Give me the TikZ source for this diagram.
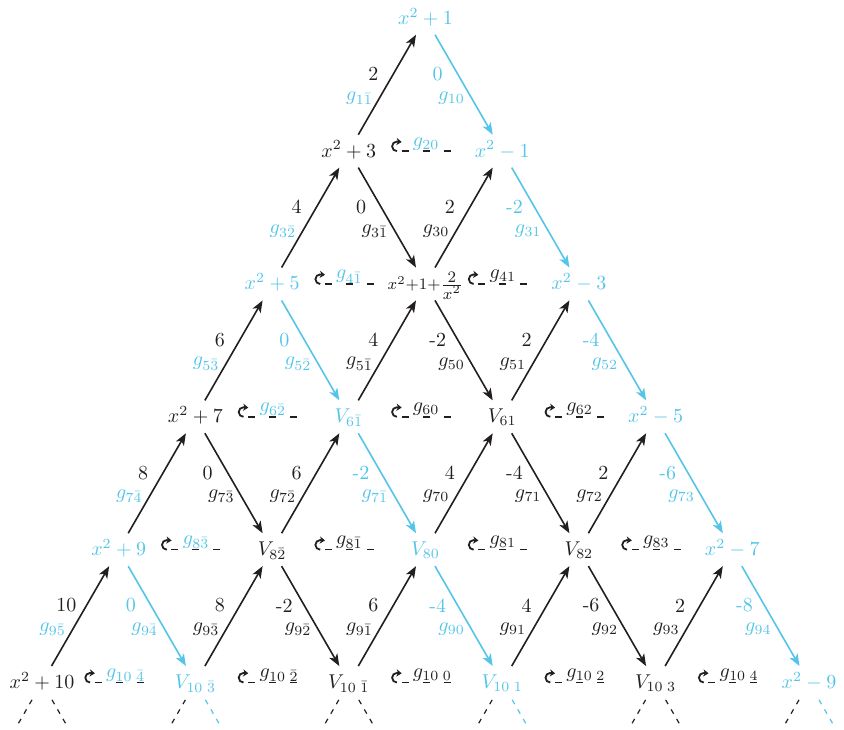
\documentclass[tikz,border=0pt]{standalone}
\usetikzlibrary{arrows.meta}
\definecolor{bk}{RGB}{35,31,32}
\definecolor{cy}{RGB}{84,197,232}
\tikzset{
 arr/.style={line width=0.8pt,-{Stealth[length=6pt,width=4.6pt,inset=1.6pt]},shorten <=9.5pt,shorten >=9.5pt},
 lab/.style={xshift=-10pt,inner sep=0pt},
 vx/.style={anchor=base,inner sep=0pt},
 lp/.style={line width=0.9pt,bk},
 lptip/.style={line width=0.9pt,bk,-{Stealth[length=2.6pt,width=3.6pt,inset=0.8pt]}},
 lpd/.style={line width=0.8pt,bk,dash pattern=on 3.5pt off 7pt},
 dsh/.style={line width=0.6pt,dash pattern=on 2.5pt off 3pt,shorten <=10pt},
}
\newcommand{\uparr}[7]{\draw[arr,color=#3] (#1) -- node[lab,text=#4,pos=0.58]{#5} node[lab,text=#6,pos=0.40]{$#7$} (#2);}
\newcommand{\downarr}[7]{\draw[arr,color=#3] (#1) -- node[lab,text=#4,pos=0.42]{#5} node[lab,text=#6,pos=0.60]{$#7$} (#2);}
\newcommand{\lpl}[3]{%
 \draw[lp] ([xshift=-14.3pt]#1) arc[start angle=270,end angle=90,radius=2.4pt];
 \draw[lptip] ([xshift=-14.5pt,yshift=4.8pt]#1) -- ++(2.6pt,-0.2pt);
 \draw[lpd] ([xshift=-12pt]#1) -- ([xshift=12.5pt]#1);
 \node[anchor=base west,inner sep=0pt,text=#2] (l#1) at ([xshift=-6.5pt,yshift=2.5pt]#1) {$#3$};}
\begin{document}
\begin{tikzpicture}[x=0.5pt,y=-0.5pt]
\useasboundingbox (0,0) rectangle (844,729);
\foreach \rr in {0,...,5}{\foreach \jj in {0,...,\rr}{
  \coordinate (q\rr\jj) at ({425.5+76.7*(2*\jj-\rr)},{18.3+132.84*\rr});
  \coordinate (b\rr\jj) at ({425.5+76.7*(2*\jj-\rr)},{24.3+132.84*\rr});
}}
\foreach \rr in {1,...,5}{\foreach \jj in {1,...,\rr}{
  \coordinate (m\rr\jj) at ({425.5+76.7*(2*\jj-1-\rr)},{18.3+132.84*\rr});
}}
\foreach \jj in {0,...,5}{
  \coordinate (eL\jj) at ({425.5+76.7*(2*\jj-5)-24.8},{18.3+132.84*5+43});
  \coordinate (eR\jj) at ({425.5+76.7*(2*\jj-5)+24.8},{18.3+132.84*5+43});
}
% nodes
\node[vx,text=cy] (n00) at (b00) {$x^2+1$};
\node[vx,text=bk] (n10) at (b10) {$x^2+3$};
\node[vx,text=cy] (n11) at (b11) {$x^2-1$};
\node[vx,text=cy] (n20) at (b20) {$x^2+5$};
\node[vx,text=bk] (n21) at (b21) {{\footnotesize$x^2{+}1{+}$}$\frac{\mbox{\footnotesize$2$}}{\mbox{\footnotesize$x^2$}}$};
\node[vx,text=cy] (n22) at (b22) {$x^2-3$};
\node[vx,text=bk] (n30) at (b30) {$x^2+7$};
\node[vx,text=cy] (n31) at (b31) {$V_{6\bar1}$};
\node[vx,text=bk] (n32) at (b32) {$V_{61}$};
\node[vx,text=cy] (n33) at (b33) {$x^2-5$};
\node[vx,text=cy] (n40) at (b40) {$x^2+9$};
\node[vx,text=bk] (n41) at (b41) {$V_{8\bar2}$};
\node[vx,text=cy] (n42) at (b42) {$V_{80}$};
\node[vx,text=bk] (n43) at (b43) {$V_{82}$};
\node[vx,text=cy] (n44) at (b44) {$x^2-7$};
\node[vx,text=bk] (n50) at (b50) {$x^2+10$};
\node[vx,text=cy] (n51) at (b51) {$V_{10\;\bar3}$};
\node[vx,text=bk] (n52) at (b52) {$V_{10\;\bar1}$};
\node[vx,text=cy] (n53) at (b53) {$V_{10\;1}$};
\node[vx,text=bk] (n54) at (b54) {$V_{10\;3}$};
\node[vx,text=cy] (n55) at (b55) {$x^2-9$};
% edges
\uparr{q10}{q00}{bk}{bk}{2}{cy}{g_{1\bar1}}
\downarr{q00}{q11}{cy}{cy}{0}{cy}{g_{10}}
\uparr{q20}{q10}{bk}{bk}{4}{cy}{g_{3\bar2}}
\downarr{q10}{q21}{bk}{bk}{0}{bk}{g_{3\bar1}}
\uparr{q21}{q11}{bk}{bk}{2}{bk}{g_{30}}
\downarr{q11}{q22}{cy}{cy}{-2}{cy}{g_{31}}
\uparr{q30}{q20}{bk}{bk}{6}{cy}{g_{5\bar3}}
\downarr{q20}{q31}{cy}{cy}{0}{cy}{g_{5\bar2}}
\uparr{q31}{q21}{bk}{bk}{4}{bk}{g_{5\bar1}}
\downarr{q21}{q32}{bk}{bk}{-2}{bk}{g_{50}}
\uparr{q32}{q22}{bk}{bk}{2}{bk}{g_{51}}
\downarr{q22}{q33}{cy}{cy}{-4}{cy}{g_{52}}
\uparr{q40}{q30}{bk}{bk}{8}{cy}{g_{7\bar4}}
\downarr{q30}{q41}{bk}{bk}{0}{bk}{g_{7\bar3}}
\uparr{q41}{q31}{bk}{bk}{6}{bk}{g_{7\bar2}}
\downarr{q31}{q42}{cy}{cy}{-2}{cy}{g_{7\bar1}}
\uparr{q42}{q32}{bk}{bk}{4}{bk}{g_{70}}
\downarr{q32}{q43}{bk}{bk}{-4}{bk}{g_{71}}
\uparr{q43}{q33}{bk}{bk}{2}{bk}{g_{72}}
\downarr{q33}{q44}{cy}{cy}{-6}{cy}{g_{73}}
\uparr{q50}{q40}{bk}{bk}{10}{cy}{g_{9\bar5}}
\downarr{q40}{q51}{cy}{cy}{0}{cy}{g_{9\bar4}}
\uparr{q51}{q41}{bk}{bk}{8}{bk}{g_{9\bar3}}
\downarr{q41}{q52}{bk}{bk}{-2}{bk}{g_{9\bar2}}
\uparr{q52}{q42}{bk}{bk}{6}{bk}{g_{9\bar1}}
\downarr{q42}{q53}{cy}{cy}{-4}{cy}{g_{90}}
\uparr{q53}{q43}{bk}{bk}{4}{bk}{g_{91}}
\downarr{q43}{q54}{bk}{bk}{-6}{bk}{g_{92}}
\uparr{q54}{q44}{bk}{bk}{2}{bk}{g_{93}}
\downarr{q44}{q55}{cy}{cy}{-8}{cy}{g_{94}}
% loops
\lpl{m11}{cy}{g_{20}}
\lpl{m21}{cy}{g_{4\bar1}}
\lpl{m22}{bk}{g_{41}}
\lpl{m31}{cy}{g_{6\bar2}}
\lpl{m32}{bk}{g_{60}}
\lpl{m33}{bk}{g_{62}}
\lpl{m41}{cy}{g_{8\bar3}}
\lpl{m42}{bk}{g_{8\bar1}}
\lpl{m43}{bk}{g_{81}}
\lpl{m44}{bk}{g_{83}}
\lpl{m51}{cy}{g_{10\;\bar4}}
\lpl{m52}{bk}{g_{10\;\bar2}}
\lpl{m53}{bk}{g_{10\;0}}
\lpl{m54}{bk}{g_{10\;2}}
\lpl{m55}{bk}{g_{10\;4}}
% bottom dashed continuations
\foreach \jj in {0,...,5}{\draw[dsh,bk] (q5\jj) -- (eL\jj);}
\foreach \jj in {0,2,4}{\draw[dsh,bk] (q5\jj) -- (eR\jj);}
\foreach \jj in {1,3,5}{\draw[dsh,cy] (q5\jj) -- (eR\jj);}
\end{tikzpicture}
\end{document}
